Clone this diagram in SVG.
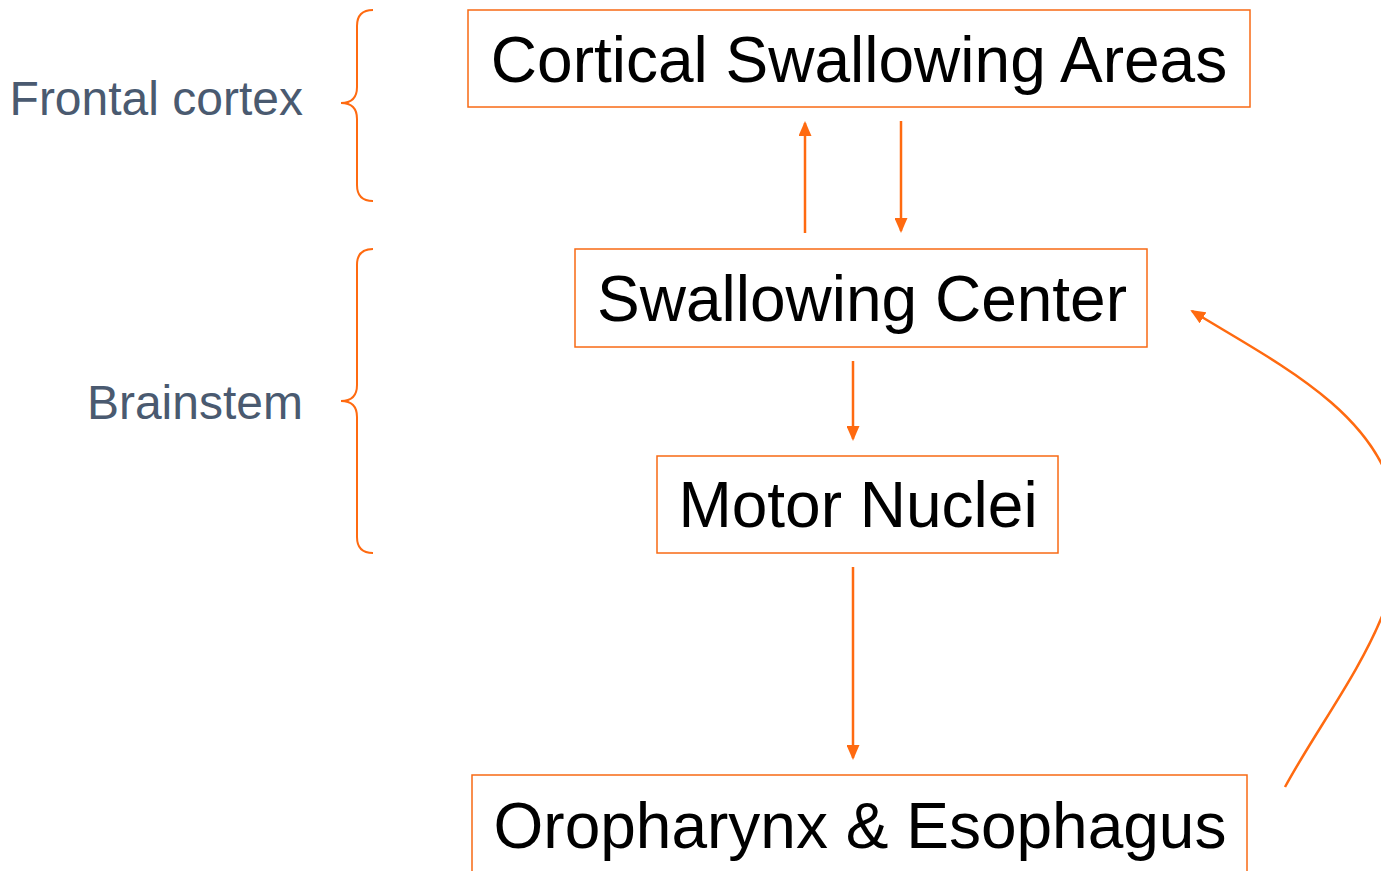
<svg xmlns="http://www.w3.org/2000/svg" width="1381" height="871" viewBox="0 0 1381 871">
<style>
.box{fill:#fff;stroke:#f86a14;stroke-width:1.5}
.t{font-family:"Liberation Sans",Arial,sans-serif;font-size:64px;fill:#000;text-anchor:middle}
.lab{font-family:"Liberation Sans",Arial,sans-serif;font-size:48px;fill:#4a5a70;text-anchor:end}
.c{fill:none;stroke:#ff6a10;stroke-width:2.5}
.br{fill:none;stroke:#ff6a10;stroke-width:2}
</style>
<defs>
<marker id="ah" markerWidth="15" markerHeight="13" refX="13" refY="6.5" orient="auto" markerUnits="userSpaceOnUse" viewBox="0 0 15 13">
<path d="M0,0 L15,6.5 L0,13 Z" fill="#ff6a10"/>
</marker>
</defs>
<rect width="1381" height="871" fill="#fff"/>
<g id="labels">
<text class="lab" x="303" y="115">Frontal cortex</text>
<text class="lab" x="303" y="419">Brainstem</text>
<path class="br" d="M373,10 Q357,10 357,26 L357,87 Q357,103 341,103 Q357,103 357,119 L357,185 Q357,201 373,201"/>
<path class="br" d="M373,249 Q357,249 357,265 L357,385 Q357,401 341,401 Q357,401 357,417 L357,537 Q357,553 373,553"/>
</g>
<g id="cortical"><rect class="box" x="468" y="10" width="782" height="97"/><text class="t" x="859" y="82">Cortical Swallowing Areas</text></g>
<g id="center"><rect class="box" x="575" y="249" width="572" height="98"/><text class="t" x="862" y="321">Swallowing Center</text></g>
<g id="motor"><rect class="box" x="657" y="456" width="401" height="97"/><text class="t" x="858" y="527">Motor Nuclei</text></g>
<g id="oro"><rect class="box" x="472" y="775" width="775" height="110"/><text class="t" x="860" y="848">Oropharynx &amp; Esophagus</text></g>
<g id="connectors">
<path class="c" d="M805,233 L805,123" marker-end="url(#ah)"/>
<path class="c" d="M901,121 L901,231" marker-end="url(#ah)"/>
<path class="c" d="M853,361 L853,439" marker-end="url(#ah)"/>
<path class="c" d="M853,567 L853,758" marker-end="url(#ah)"/>
<path class="c" d="M1285,787 C1335,695 1420,600 1395,500 C1375,410 1275,362 1192,311" marker-end="url(#ah)"/>
</g>
</svg>
